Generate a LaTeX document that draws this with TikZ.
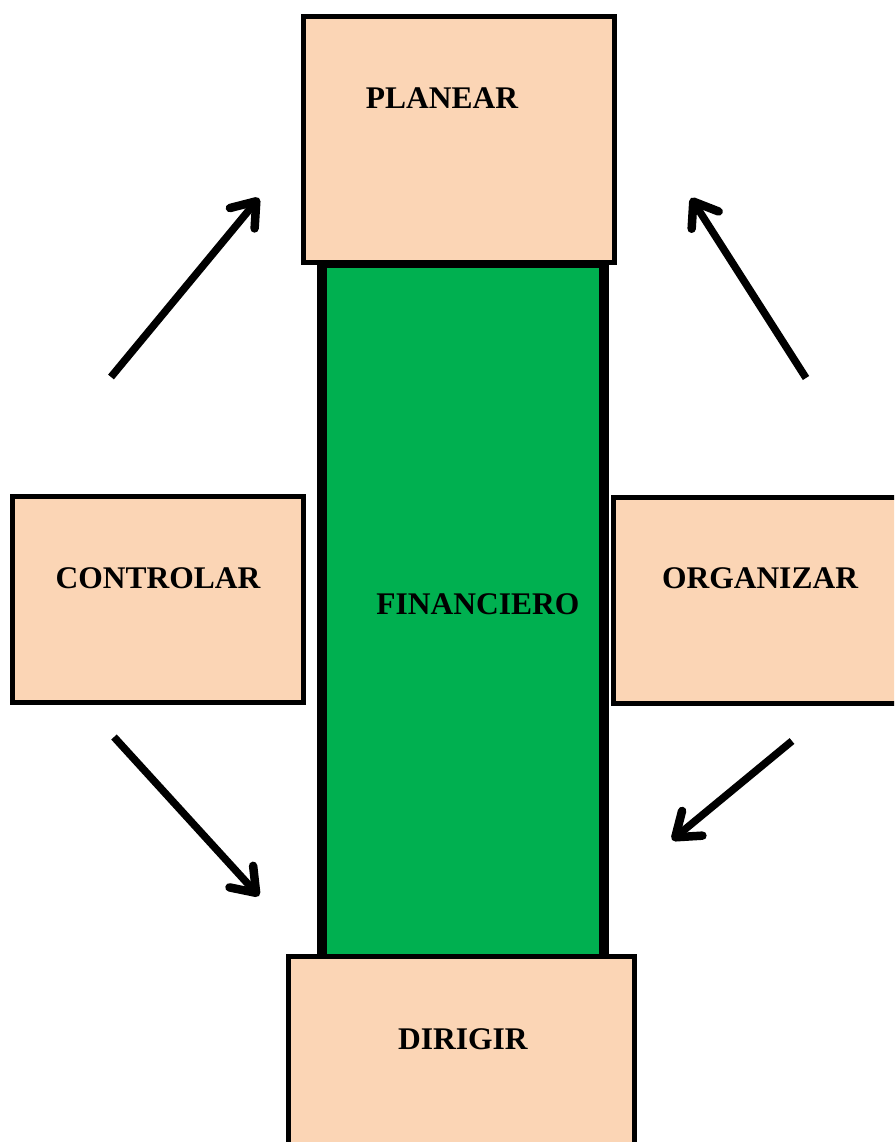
\documentclass[tikz,border=0pt]{standalone}
\usepackage{fontspec}
\setmainfont{Liberation Serif}
\usetikzlibrary{arrows.meta}
\definecolor{peach}{HTML}{FBD5B5}
\definecolor{fgreen}{HTML}{00B050}
\tikzset{
  box/.style={draw=black,fill=peach,line width=5pt,inner sep=0pt,anchor=north west},
  lbl/.style={font=\fontsize{31.5}{36}\selectfont\bfseries,inner sep=0pt},
  arr/.style={line width=7.5pt,-{Straight Barb[length=22pt,width=32pt,line width=8.5pt,line cap=round,line join=round]}}
}
\begin{document}
\begin{tikzpicture}[x=1pt,y=-1pt]
\useasboundingbox (0,0) rectangle (894,1142);
\clip (0,0) rectangle (894,1142);
% green column
\node[draw=black,fill=fgreen,line width=10pt,inner sep=0pt,anchor=north west,minimum width=282pt,minimum height=700pt] (fin) at (317,258) {};
\node[box,minimum width=311pt,minimum height=246pt] (plan) at (301,14) {};
\node[box,minimum width=291pt,minimum height=206pt] (ctrl) at (10,494) {};
\node[box,minimum width=300pt,minimum height=206pt] (org) at (611,495) {};
\node[box,minimum width=346pt,minimum height=220pt] (dir) at (286,954) {};
% labels
\node[lbl] (tplan) at (442,98) {PLANEAR};
\node[lbl] (tctrl) at (158,578) {CONTROLAR};
\node[lbl] (torg) at (760,578) {ORGANIZAR};
\node[lbl] (tfin) at (478,604) {FINANCIERO};
\node[lbl] (tdir) at (463,1039) {DIRIGIR};
% arrow ends
\coordinate (a1s) at (111,377);
\coordinate (a1e) at (259,198);
\coordinate (a2s) at (806,378);
\coordinate (a2e) at (691,198);
\coordinate (a3s) at (114,737);
\coordinate (a3e) at (259,896);
\coordinate (a4s) at (792,741);
\coordinate (a4e) at (672,840);
\draw[arr] (a1s) -- (a1e);
\draw[arr] (a2s) -- (a2e);
\draw[arr] (a3s) -- (a3e);
\draw[arr] (a4s) -- (a4e);
\end{tikzpicture}
\end{document}
